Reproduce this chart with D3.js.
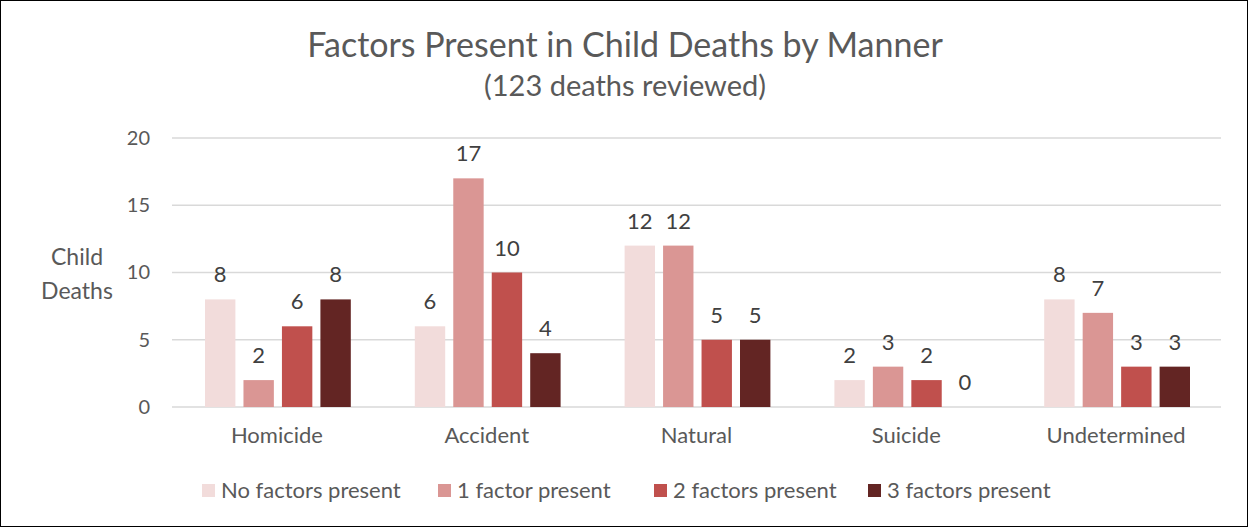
<!DOCTYPE html>
<html>
<head>
<meta charset="utf-8">
<script src="https://cdn.jsdelivr.net/npm/d3@7"></script>
<style>
    body { margin: 0; background: #fff; }
    text { font-family: Lato, "Open Sans", sans-serif; fill: #595959; }
</style>
</head>
<body>
<script>
// Data
var manners = ["Homicide", "Accident", "Natural", "Suicide", "Undetermined"];
var factorLevels = ["No factors present", "1 factor present",
    "2 factors present", "3 factors present"];
var noFactors = [8, 6, 12, 2, 8];
var oneFactor = [2, 17, 12, 3, 7];
var twoFactors = [6, 10, 5, 2, 3];
var threeFactors = [8, 4, 5, 0, 3];
var yTicks = [0, 5, 10, 15, 20];
var colors = ["#f2dcdb", "#da9694", "#c0504d", "#632523"];

var series = [noFactors, oneFactor, twoFactors, threeFactors];

var W = 1250, H = 529;
var margin = {left: 172, right: 29, top: 138, bottom: 122};
var width = W - margin.left - margin.right,
    height = H - margin.top - margin.bottom;

var svg = d3.select("body").append("svg")
    .attr("width", W)
    .attr("height", H);

// Outer frame
svg.append("rect")
    .attr("x", 0.5).attr("y", 0.5)
    .attr("width", W - 3).attr("height", H - 3)
    .attr("fill", "#fff")
    .attr("stroke", "#000");

// Titles
svg.append("text")
    .attr("x", 625).attr("y", 57)
    .attr("text-anchor", "middle")
    .style("font-size", "34px")
    .text("Factors Present in Child Deaths by Manner");

svg.append("text")
    .attr("x", 625).attr("y", 96)
    .attr("text-anchor", "middle")
    .style("font-size", "29px")
    .text("(123 deaths reviewed)");

var g = svg.append("g")
    .attr("transform", "translate(" + margin.left + "," + margin.top + ")");

var x0 = d3.scaleBand()
    .domain(manners)
    .range([0, width])
    .paddingInner(0)
    .paddingOuter(0);

var x1 = d3.scaleBand()
    .domain(d3.range(series.length))
    .range([33, x0.bandwidth() - 31])
    .paddingInner(0.21);

var y = d3.scaleLinear()
    .domain([0, 20])
    .range([height, 0]);

// Gridlines
g.append("g")
    .selectAll("line")
    .data(yTicks)
    .enter().append("line")
    .attr("x1", 0).attr("x2", width)
    .attr("y1", function(d) { return y(d); })
    .attr("y2", function(d) { return y(d); })
    .attr("stroke", "#d9d9d9")
    .attr("stroke-width", 1.5);

// Y axis labels
var yAxis = d3.axisLeft(y)
    .tickValues(yTicks)
    .tickSize(0)
    .tickPadding(22);

g.append("g")
    .call(yAxis)
    .call(function(a) { a.select(".domain").remove(); })
    .selectAll("text")
    .style("font-size", "20px")
    .style("fill", "#595959")
    .attr("font-family", null);

// X axis labels
var xAxis = d3.axisBottom(x0)
    .tickSize(0)
    .tickPadding(20);

g.append("g")
    .attr("transform", "translate(0," + height + ")")
    .call(xAxis)
    .call(function(a) { a.select(".domain").remove(); })
    .selectAll("text")
    .style("font-size", "22px")
    .style("fill", "#595959")
    .attr("font-family", null);

// Y axis title
var yTitle = svg.append("text")
    .attr("text-anchor", "middle")
    .style("font-size", "23px");
yTitle.append("tspan").attr("x", 77).attr("y", 265).text("Child");
yTitle.append("tspan").attr("x", 77).attr("y", 299).text("Deaths");

// Bars
var groups = g.selectAll(".grp")
    .data(manners)
    .enter().append("g")
    .attr("class", "grp")
    .attr("transform", function(d) {
        return "translate(" + x0(d) + ",0)";
    });

groups.selectAll("rect")
    .data(function(d, i) {
        return series.map(function(s, k) {
            return {k: k, v: s[i]};
        });
    })
    .enter().append("rect")
    .attr("x", function(d) { return x1(d.k); })
    .attr("y", function(d) { return y(d.v); })
    .attr("width", x1.bandwidth())
    .attr("height", function(d) { return height - y(d.v); })
    .attr("fill", function(d) { return colors[d.k]; });

groups.selectAll(".lbl")
    .data(function(d, i) {
        return series.map(function(s, k) {
            return {k: k, v: s[i]};
        });
    })
    .enter().append("text")
    .attr("class", "lbl")
    .attr("x", function(d) { return x1(d.k) + x1.bandwidth() / 2; })
    .attr("y", function(d) { return y(d.v) - 17; })
    .attr("text-anchor", "middle")
    .style("font-size", "22px")
    .style("fill", "#404040")
    .text(function(d) { return d.v; });

// Legend
var legendX = [202, 438, 654, 868];
var legend = svg.append("g")
    .selectAll("g")
    .data(factorLevels)
    .enter().append("g")
    .attr("transform", function(d, i) {
        return "translate(" + legendX[i] + ",484)";
    });

legend.append("rect")
    .attr("width", 13).attr("height", 13)
    .attr("fill", function(d, i) { return colors[i]; });

legend.append("text")
    .attr("x", 19).attr("y", 14)
    .style("font-size", "22px")
    .text(function(d) { return d; });
</script>
</body>
</html>
